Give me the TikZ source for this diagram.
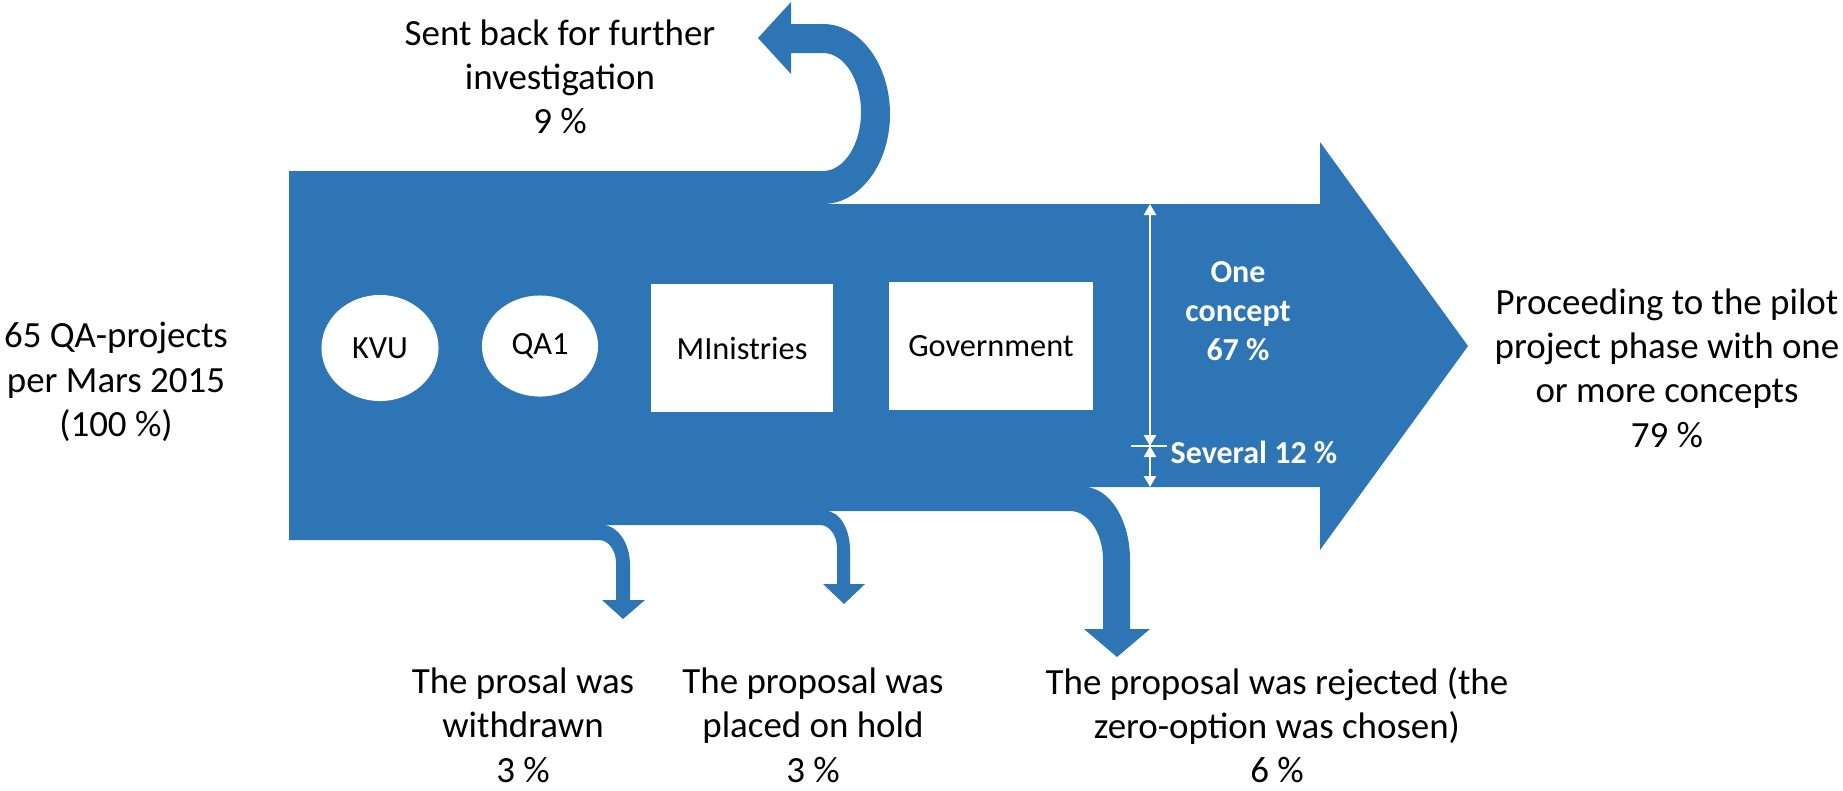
\documentclass[tikz,border=0pt]{standalone}
\usepackage{fontspec}
\setmainfont{Carlito}
\usetikzlibrary{shapes.geometric}
\usetikzlibrary{arrows.meta}
\definecolor{flowblue}{RGB}{46,117,182}

\begin{document}
\begin{tikzpicture}[x=0.01cm,y=-0.01cm,
        note/.style={align=center,font=\fontsize{10.5}{12.6}\selectfont},
        stagebox/.style={fill=white,inner sep=0pt,font=\fontsize{9.2}{11}\selectfont},
        share/.style={text=white,align=center,font=\fontsize{9.1}{11.1}\selectfont\bfseries},
        dimline/.style={white,line width=0.7pt,{Triangle[length=1.1mm,width=1.2mm]}-{Triangle[length=1.1mm,width=1.2mm]}}]
        \useasboundingbox (0,0) rectangle (1843,790);

        \fill[flowblue] (289,171) -- (823,171)
            arc[start angle=90,end angle=-90,x radius=38,y radius=59] -- (791,53) -- (791,74) -- (758,38) -- (791,2) -- (791,24) -- (823,24)
            arc[start angle=-90,end angle=90,x radius=67,y radius=90] -- (1320,204) -- (1320,142) -- (1468,346) -- (1320,550) -- (1320,487) -- (1084,487)
            arc[start angle=-90,end angle=0,x radius=46,y radius=73] -- (1130,629) -- (1150,629) -- (1117,657) -- (1084,629) -- (1103,629) -- (1103,560)
            arc[start angle=0,end angle=-90,x radius=33,y radius=49] -- (826,511)
            arc[start angle=-90,end angle=0,x radius=24,y radius=39] -- (850,584) -- (865,584) -- (844,604) -- (823,584) -- (837,584) -- (837,548)
            arc[start angle=0,end angle=-90,x radius=17,y radius=23] -- (602,525)
            arc[start angle=-90,end angle=0,x radius=28,y radius=40] -- (630,600) -- (645,600) -- (623,619) -- (602,600) -- (616,600) -- (616,563)
            arc[start angle=0,end angle=-90,x radius=17,y radius=23] -- (289,540) -- cycle;

        \node[ellipse,stagebox,minimum width=1.17cm,minimum height=1.06cm] (KVU) at (380,348) {KVU};
        \node[ellipse,stagebox,minimum width=1.16cm,minimum height=1.01cm] (QA1) at (540,346) {QA1};
        \node[rectangle,stagebox,minimum width=1.82cm,minimum height=1.28cm] (Min) at (742,348) {MInistries};
        \node[rectangle,stagebox,minimum width=2.03cm,minimum height=1.28cm] (Gov) at (991,346) {Government};

        \coordinate (oneTop) at (1150,204);
        \coordinate (split) at (1150,446);
        \coordinate (sevBot) at (1150,487);
        \draw[dimline] (oneTop) -- (split);
        \draw[dimline] (split) -- (sevBot);
        \draw[white,line width=0.7pt] ([xshift=-0.19cm]split) -- ([xshift=0.17cm]split);
        \node[share] (One) at (1238,311) {One\\concept\\67 \%};
        \node[share,anchor=base west,inner sep=0pt] (Several) at (1170,463) {Several 12 \%};

        \node[note] (Start) at (116,382) {65 QA-projects\\per Mars 2015\\(100 \%)};
        \node[note] (Back) at (560,77) {Sent back for further\\investigation\\9 \%};
        \node[note] (Pilot) at (1667,368) {Proceeding to the pilot\\project phase with one\\or more concepts\\79 \%};
        \node[note,inner sep=1pt] (Withdrawn) at (523,725) {The prosal was\\withdrawn\\3 \%};
        \node[note,inner sep=1pt] (Hold) at (813,725) {The proposal was\\placed on hold\\3 \%};
        \node[note,inner sep=1pt] (Rejected) at (1277,725) {The proposal was rejected (the\\zero-option was chosen)\\6 \%};

    \end{tikzpicture}
\end{document}
